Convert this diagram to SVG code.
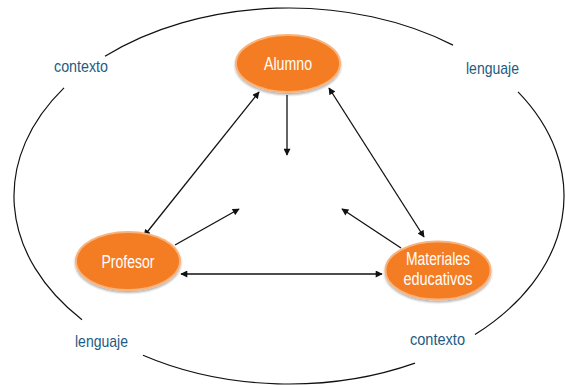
<svg xmlns="http://www.w3.org/2000/svg" width="565" height="385" viewBox="0 0 565 385">
<defs>
<marker id="ah" viewBox="0 0 10 10" refX="9" refY="5" markerWidth="8" markerHeight="7" markerUnits="userSpaceOnUse" orient="auto-start-reverse">
<path d="M0,0 L10,5 L0,10 z" fill="#111"/>
</marker>
<filter id="sh" x="-20%" y="-20%" width="140%" height="150%">
<feGaussianBlur in="SourceAlpha" stdDeviation="1.2"/>
<feOffset dx="0" dy="1.5"/>
<feComponentTransfer><feFuncA type="linear" slope="0.3"/></feComponentTransfer>
<feMerge><feMergeNode/><feMergeNode in="SourceGraphic"/></feMerge>
</filter>
</defs>
<style>
.ring{fill:none;stroke:#111;stroke-width:1.2}
.node{fill:#F47B20;stroke:#F9B27A;stroke-width:2;filter:url(#sh)}
.nt{font-family:"Liberation Sans",Arial,sans-serif;font-size:18px;fill:#fff;text-anchor:middle}
.lb{font-family:"Liberation Sans",Arial,sans-serif;font-size:17px;fill:#1d5b83}
.cn{fill:none;stroke:#111;stroke-width:1.3}
</style>
<rect width="565" height="385" fill="#fff"/>
<g id="context-ring">
<path class="ring" d="M105,56.3 A275,188 0 0 1 453,45.1"/>
<path class="ring" d="M518,91.9 A275,188 0 0 1 475,334.5"/>
<path class="ring" d="M415,363.1 A275,188 0 0 1 143,355.3"/>
<path class="ring" d="M82,319.8 A275,188 0 0 1 64,87.9"/>
</g>
<g id="labels">
<text class="lb" x="54" y="72" textLength="54" lengthAdjust="spacingAndGlyphs">contexto</text>
<text class="lb" x="466" y="74" textLength="53" lengthAdjust="spacingAndGlyphs">lenguaje</text>
<text class="lb" x="75" y="347" textLength="53" lengthAdjust="spacingAndGlyphs">lenguaje</text>
<text class="lb" x="410" y="345" textLength="55" lengthAdjust="spacingAndGlyphs">contexto</text>
</g>
<g id="connectors">
<line class="cn" x1="259" y1="92" x2="144" y2="236" marker-start="url(#ah)" marker-end="url(#ah)"/>
<line class="cn" x1="329" y1="88" x2="424" y2="237" marker-start="url(#ah)" marker-end="url(#ah)"/>
<line class="cn" x1="287" y1="95" x2="287" y2="155" marker-end="url(#ah)"/>
<line class="cn" x1="175" y1="245" x2="239" y2="209" marker-end="url(#ah)"/>
<line class="cn" x1="401" y1="248" x2="342" y2="209" marker-end="url(#ah)"/>
<line class="cn" x1="181" y1="274" x2="382" y2="274" marker-start="url(#ah)" marker-end="url(#ah)"/>
</g>
<g id="alumno">
<ellipse class="node" cx="288" cy="63.5" rx="52" ry="28.5"/>
<text class="nt" x="288" y="70" textLength="48" lengthAdjust="spacingAndGlyphs">Alumno</text>
</g>
<g id="profesor">
<ellipse class="node" cx="128" cy="261" rx="52" ry="29"/>
<text class="nt" x="128" y="268" textLength="53" lengthAdjust="spacingAndGlyphs">Profesor</text>
</g>
<g id="materiales">
<ellipse class="node" cx="438" cy="270.5" rx="52.5" ry="29"/>
<text class="nt" x="438" y="265" textLength="64" lengthAdjust="spacingAndGlyphs">Materiales</text>
<text class="nt" x="438" y="285" textLength="69" lengthAdjust="spacingAndGlyphs">educativos</text>
</g>
</svg>
